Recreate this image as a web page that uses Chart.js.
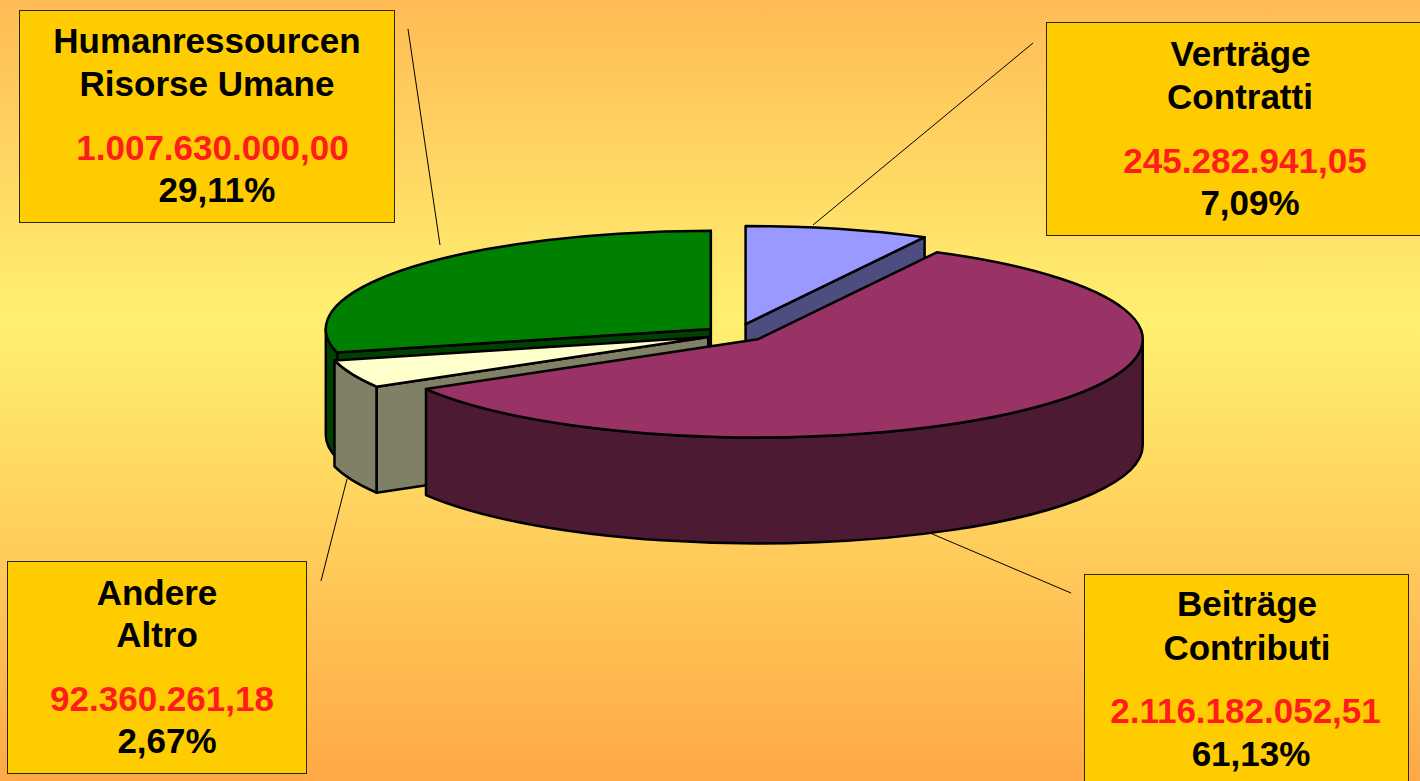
<!DOCTYPE html>
<html lang="de">
<head>
<meta charset="utf-8">
<title>Einnahmen / Entrate</title>
<script src="https://cdn.jsdelivr.net/npm/chart.js@4"></script>
<style>
  html, body { margin: 0; padding: 0; width: 1420px; height: 781px; overflow: hidden; }
  body { position: relative; background: linear-gradient(180deg, #ffbb55 0%, #ffef70 40%, #ffef70 42%, #ffa845 100%); }
  canvas { position: absolute; left: 0; top: 0; }
  .box { position: absolute; box-sizing: border-box; background: #ffcc00; border: 1px solid #2a2a00; }
  .line { position: absolute; white-space: nowrap; transform: translateX(-50%);
          font: bold 35px "Liberation Sans", Arial, sans-serif; line-height: 0; color: #000; }
  .line.amount { color: #ff1c1c; }
</style>
</head>
<body>
<canvas id="pie" width="1420" height="781"></canvas>
<script>
// Revenue split, clockwise from twelve o'clock
const labelsDe = ['Verträge', 'Beiträge', 'Andere', 'Humanressourcen'];
const labelsIt = ['Contratti', 'Contributi', 'Altro', 'Risorse Umane'];
const amounts = [245282941.05, 2116182052.51, 92360261.18, 1007630000.00];
const shares = ['7,09%', '61,13%', '2,67%', '29,11%'];
const topColors = ['#9999ff', '#993366', '#ffffcc', '#008000'];
const sideColors = ['#4d4d80', '#4d1a33', '#808066', '#004000'];

// Look of the tilted, exploded pie
const SQUASH = 0.255;
const DEPTH = 106;
const RADIUS = 385;
const OUTLINE = 2.5;
const explodeBy = [40, 30, 30, 32];
// Perspective distortion of the slice boundaries, in degrees, one per boundary
const boundarySkew = [2.2, -6.1, 0.9];

// Callout boxes: rectangle, then centre x and baseline y for each of the four text lines
const callouts = [
  { box: [1046, 22, 380, 214], x: [1240.5, 1240, 1245, 1250], y: [66, 109, 173, 215] },
  { box: [1084, 574, 325, 215], x: [1247, 1247, 1245.5, 1251], y: [616, 660, 723, 766] },
  { box: [7, 561, 300, 213], x: [157, 157, 162, 167], y: [605, 647, 711, 753] },
  { box: [19, 10, 376, 213], x: [207, 207, 212.5, 217], y: [53, 96, 160, 202] }
];
const leaders = [
  [1033, 43, 813, 225],
  [930, 533, 1071, 593],
  [347, 479, 321, 581],
  [408, 29, 440, 245]
];

const amountFormat = new Intl.NumberFormat('de-DE', { minimumFractionDigits: 2, maximumFractionDigits: 2 });

function pivotY(chart) {
  return (chart.chartArea.top + chart.chartArea.bottom) / 2;
}
function arcsOf(chart) {
  return chart.getDatasetMeta(0).data;
}

// Apply the perspective skew, then push each slice out along its middle angle
const explodePlugin = {
  id: 'explode',
  afterDatasetsUpdate(chart) {
    const arcs = arcsOf(chart);
    const rad = Math.PI / 180;
    boundarySkew.forEach((deg, i) => {
      arcs[i].endAngle += deg * rad;
      arcs[i + 1].startAngle += deg * rad;
    });
    arcs.forEach((el, i) => {
      el.circumference = el.endAngle - el.startAngle;
      const mid = (el.startAngle + el.endAngle) / 2;
      el.x += Math.cos(mid) * explodeBy[i];
      el.y += Math.sin(mid) * explodeBy[i];
    });
  }
};

function paint(ctx, fill) {
  ctx.fillStyle = fill;
  ctx.fill();
  ctx.stroke();
}

// Straight cut face running from the slice apex out to the rim
function cutFace(ctx, el, angle, py, fill) {
  const rimX = el.x + Math.cos(angle) * el.outerRadius;
  const rimY = py + Math.sin(angle) * el.outerRadius * SQUASH;
  ctx.beginPath();
  ctx.moveTo(el.x, py);
  ctx.lineTo(rimX, rimY);
  ctx.lineTo(rimX, rimY + DEPTH);
  ctx.lineTo(el.x, py + DEPTH);
  ctx.closePath();
  paint(ctx, fill);
}

// Extrusion under the tilted pie, then a squashed transform for the library's arcs
const tiltPlugin = {
  id: 'tilt',
  beforeDatasetsDraw(chart) {
    const { ctx } = chart;
    const cy = pivotY(chart);
    ctx.save();
    ctx.strokeStyle = '#000';
    ctx.lineWidth = OUTLINE;
    ctx.lineJoin = 'round';
    const order = arcsOf(chart).map((el, i) => ({ el, i }))
      .sort((a, b) => Math.sin((a.el.startAngle + a.el.endAngle) / 2) - Math.sin((b.el.startAngle + b.el.endAngle) / 2));
    order.forEach(({ el, i }) => {
      const py = cy + (el.y - cy) * SQUASH;
      const rx = el.outerRadius;
      const ry = rx * SQUASH;
      if (Math.cos(el.startAngle) < 0) cutFace(ctx, el, el.startAngle, py, sideColors[i]);
      if (Math.cos(el.endAngle) > 0) cutFace(ctx, el, el.endAngle, py, sideColors[i]);
      const lo = Math.max(el.startAngle, 0);
      const hi = Math.min(el.endAngle, Math.PI);
      if (hi > lo) {
        ctx.beginPath();
        ctx.ellipse(el.x, py, rx, ry, 0, lo, hi);
        ctx.ellipse(el.x, py + DEPTH, rx, ry, 0, hi, lo, true);
        ctx.closePath();
        paint(ctx, sideColors[i]);
      }
    });
    ctx.restore();
    ctx.save();
    ctx.translate(0, cy);
    ctx.scale(1, SQUASH);
    ctx.translate(0, -cy);
  },
  afterDatasetsDraw(chart) {
    const { ctx } = chart;
    const cy = pivotY(chart);
    ctx.restore();
    // Outline the top faces with an even pen: path built squashed, stroked unsquashed
    ctx.save();
    ctx.strokeStyle = '#000';
    ctx.lineWidth = OUTLINE;
    ctx.lineJoin = 'round';
    arcsOf(chart).forEach(el => {
      ctx.save();
      ctx.translate(0, cy);
      ctx.scale(1, SQUASH);
      ctx.translate(0, -cy);
      ctx.beginPath();
      ctx.moveTo(el.x, el.y);
      ctx.arc(el.x, el.y, el.outerRadius, el.startAngle, el.endAngle);
      ctx.closePath();
      ctx.restore();
      ctx.stroke();
    });
    // Leader lines from the pie towards the callouts
    ctx.lineWidth = 1;
    leaders.forEach(([x1, y1, x2, y2]) => {
      ctx.beginPath();
      ctx.moveTo(x1, y1);
      ctx.lineTo(x2, y2);
      ctx.stroke();
    });
    ctx.restore();
  }
};

new Chart(document.getElementById('pie'), {
  type: 'pie',
  data: {
    labels: labelsDe,
    datasets: [{
      data: amounts,
      backgroundColor: topColors,
      borderWidth: 0,
      clip: false
    }]
  },
  options: {
    responsive: false,
    animation: false,
    radius: RADIUS,
    layout: { padding: { left: 52, right: 0, top: 0, bottom: 113 } },
    plugins: { legend: { display: false }, tooltip: { enabled: false } }
  },
  plugins: [explodePlugin, tiltPlugin]
});

// Callouts are plain page text
const FONT_SIZE = 35;
const BASELINE_SHIFT = 0.3465 * FONT_SIZE;
callouts.forEach((c, i) => {
  const box = document.createElement('div');
  box.className = 'box';
  box.style.left = c.box[0] + 'px';
  box.style.top = c.box[1] + 'px';
  box.style.width = c.box[2] + 'px';
  box.style.height = c.box[3] + 'px';
  document.body.appendChild(box);
  [labelsDe[i], labelsIt[i], amountFormat.format(amounts[i]), shares[i]].forEach((text, j) => {
    const line = document.createElement('div');
    line.className = j === 2 ? 'line amount' : 'line';
    line.textContent = text;
    line.style.left = c.x[j] + 'px';
    line.style.top = (c.y[j] - BASELINE_SHIFT) + 'px';
    document.body.appendChild(line);
  });
});
</script>
</body>
</html>
